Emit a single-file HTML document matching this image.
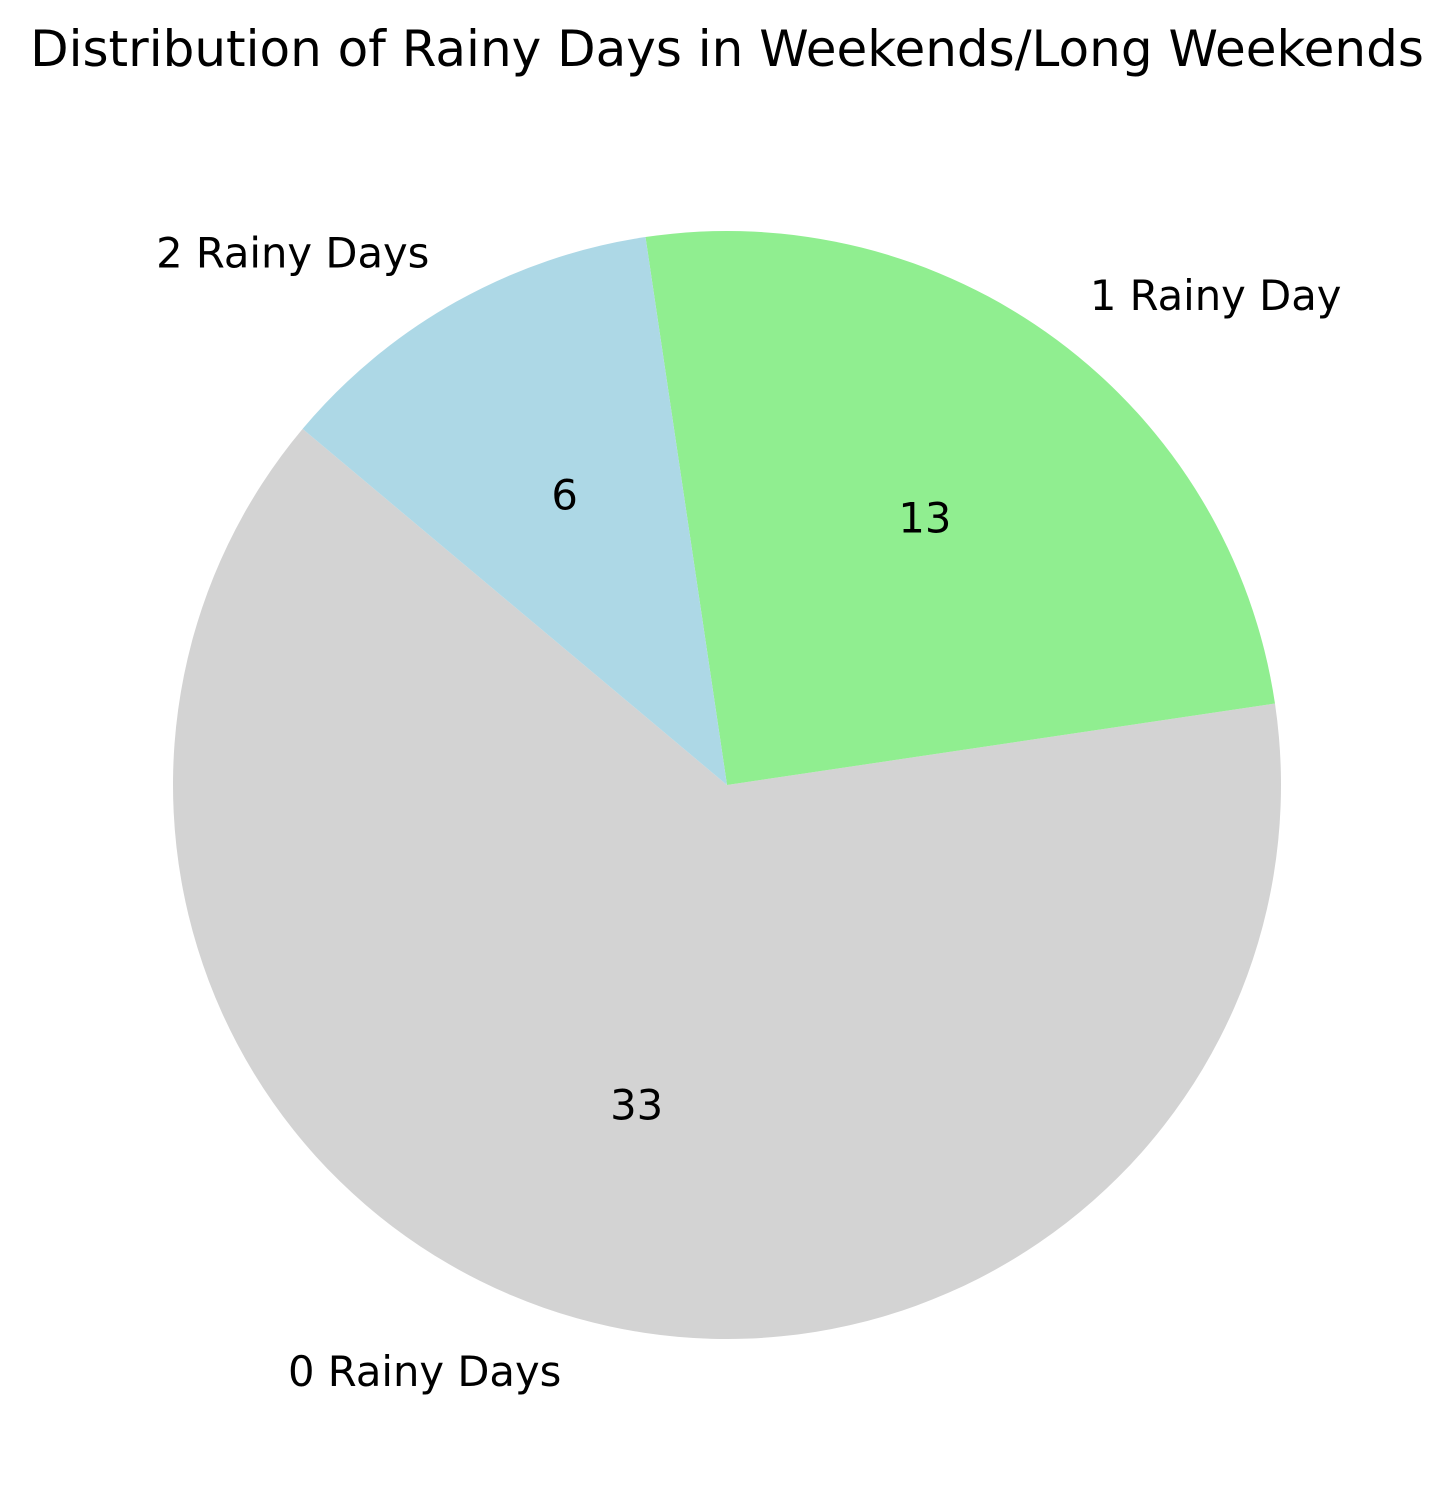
<!DOCTYPE html>
<html><head><meta charset="utf-8">
<style>
html,body{margin:0;padding:0;background:#fff;}
svg{display:block;font-family:"DejaVu Sans","Liberation Sans",sans-serif;}
</style></head>
<body>
<svg id="chart" width="1454" height="1509" viewBox="0 0 1454 1509">
<text x="727" y="66" font-size="50" text-anchor="middle" fill="#000">Distribution of Rainy Days in Weekends/Long Weekends</text>
<g id="slices"></g>
</svg>
<script>
const categories = ["0 Rainy Days", "1 Rainy Day", "2 Rainy Days"];
const values = [33, 13, 6];
const colors = ["#d3d3d3", "#90ee90", "#add8e6"];
const startAngle = 140;

const cx = 727, cy = 785, r = 554;
const NS = "http://www.w3.org/2000/svg";
const g = document.getElementById("slices");
const total = values.reduce((a, b) => a + b, 0);
function pt(deg, rr) {
  const a = deg * Math.PI / 180;
  return [cx + rr * Math.cos(a), cy - rr * Math.sin(a)];
}
let ang = startAngle;
values.forEach((v, i) => {
  const sweep = v / total * 360;
  const a0 = ang, a1 = ang + sweep;
  const p0 = pt(a0, r), p1 = pt(a1, r);
  const large = sweep > 180 ? 1 : 0;
  const path = document.createElementNS(NS, "path");
  path.setAttribute("d", `M${cx},${cy} L${p0[0]},${p0[1]} A${r},${r} 0 ${large} 0 ${p1[0]},${p1[1]} Z`);
  path.setAttribute("fill", colors[i]);
  
  
  g.appendChild(path);
  const mid = (a0 + a1) / 2;
  const lp = pt(mid, r * 1.1);
  const lab = document.createElementNS(NS, "text");
  lab.setAttribute("x", lp[0]);
  lab.setAttribute("y", lp[1]);
  lab.setAttribute("font-size", "41.7");
  lab.setAttribute("dominant-baseline", "central");
  lab.setAttribute("text-anchor", Math.cos(mid * Math.PI / 180) >= 0 ? "start" : "end");
  lab.textContent = categories[i];
  
  
  g.appendChild(lab);
  const vp = pt(mid, r * 0.6);
  const vt = document.createElementNS(NS, "text");
  vt.setAttribute("x", vp[0]);
  vt.setAttribute("y", vp[1]);
  vt.setAttribute("font-size", "41.7");
  vt.setAttribute("dominant-baseline", "central");
  vt.setAttribute("text-anchor", "middle");
  vt.textContent = String(values[i]);
  
  
  g.appendChild(vt);
  ang = a1;
});
</script>
</body></html>
